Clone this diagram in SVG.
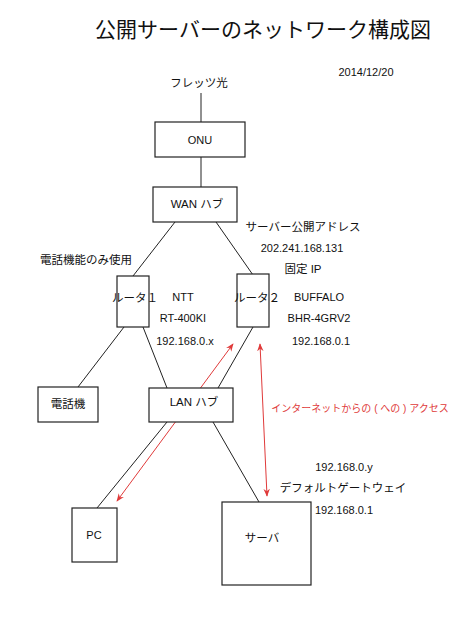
<svg xmlns="http://www.w3.org/2000/svg" width="472" height="618" viewBox="0 0 472 618">
<defs>
<marker id="ah" viewBox="0 0 10 10" refX="9" refY="5" markerWidth="8" markerHeight="8" orient="auto-start-reverse" markerUnits="userSpaceOnUse">
<path d="M0,1 L10,5 L0,9 L3,5 z" fill="#e03a3a"/>
</marker>
<style>
text{font-family:"Liberation Sans","Noto Sans CJK JP",sans-serif;fill:#111;}
.box{fill:#fff;stroke:#222;stroke-width:1.2;}
.ln{stroke:#222;stroke-width:1;fill:none;}
.rd{stroke:#e03a3a;stroke-width:1;fill:none;marker-start:url(#ah);marker-end:url(#ah);}
.t{font-size:11.5px;}
.n{font-size:11px;}
.c{text-anchor:middle;}
</style>
</defs>
<rect width="472" height="618" fill="#fff"/>
<text x="263" y="37" font-size="21" class="c">公開サーバーのネットワーク構成図</text>
<text x="366" y="76" class="n c">2014/12/20</text>
<text x="199" y="87" class="t c">フレッツ光</text>

<g id="connectors">
<line class="ln" x1="201" y1="93" x2="201" y2="122"/>
<line class="ln" x1="201" y1="157" x2="201" y2="187"/>
<line class="ln" x1="175" y1="222" x2="133" y2="276"/>
<line class="ln" x1="216" y1="222" x2="253" y2="275"/>
<line class="ln" x1="124" y1="327" x2="78" y2="387"/>
<line class="ln" x1="143" y1="327" x2="167" y2="388"/>
<line class="ln" x1="253" y1="327" x2="218" y2="388"/>
<line class="ln" x1="167" y1="422" x2="97" y2="508"/>
<line class="ln" x1="213" y1="422" x2="259" y2="502"/>
<line class="rd" x1="233" y1="344" x2="117" y2="501"/>
<line class="rd" x1="260" y1="344" x2="267" y2="496"/>
</g>

<g id="onu"><rect class="box" x="155" y="122" width="90" height="35"/><text x="200" y="144" class="n c">ONU</text></g>
<g id="wan-hub"><rect class="box" x="153" y="187" width="84" height="35"/><text x="197" y="208" class="t c">WAN ハブ</text></g>
<g id="router1"><rect class="box" x="117" y="276" width="32" height="51"/><text x="135" y="302" class="t c">ルータ１</text></g>
<g id="router2"><rect class="box" x="237" y="274" width="32" height="53"/><text x="257" y="302" class="t c">ルータ２</text></g>
<g id="phone"><rect class="box" x="38" y="387" width="60" height="35"/><text x="68" y="408" class="t c">電話機</text></g>
<g id="lan-hub"><rect class="box" x="149" y="388" width="84" height="34"/><text x="194" y="406" class="t c">LAN ハブ</text></g>
<g id="pc"><rect class="box" x="72" y="508" width="45" height="54"/><text x="94" y="539" class="n c">PC</text></g>
<g id="server"><rect class="box" x="222" y="502" width="89" height="83"/><text x="262" y="542" class="t c">サーバ</text></g>

<text x="86" y="264" class="t c">電話機能のみ使用</text>
<text x="303" y="231" class="t c">サーバー公開アドレス</text>
<text x="302" y="252" class="n c">202.241.168.131</text>
<text x="303" y="273" class="t c">固定 IP</text>
<text x="183" y="301" class="n c">NTT</text>
<text x="183" y="322" class="n c">RT-400KI</text>
<text x="185" y="345" class="n c">192.168.0.x</text>
<text x="319" y="301" class="n c">BUFFALO</text>
<text x="319" y="322" class="n c">BHR-4GRV2</text>
<text x="321" y="345" class="n c">192.168.0.1</text>
<text x="360" y="412" font-size="10" class="c" style="fill:#e03a3a">インターネットからの ( への ) アクセス</text>
<text x="344" y="471" class="n c">192.168.0.y</text>
<text x="343" y="492" class="t c">デフォルトゲートウェイ</text>
<text x="344" y="514" class="n c">192.168.0.1</text>
</svg>
